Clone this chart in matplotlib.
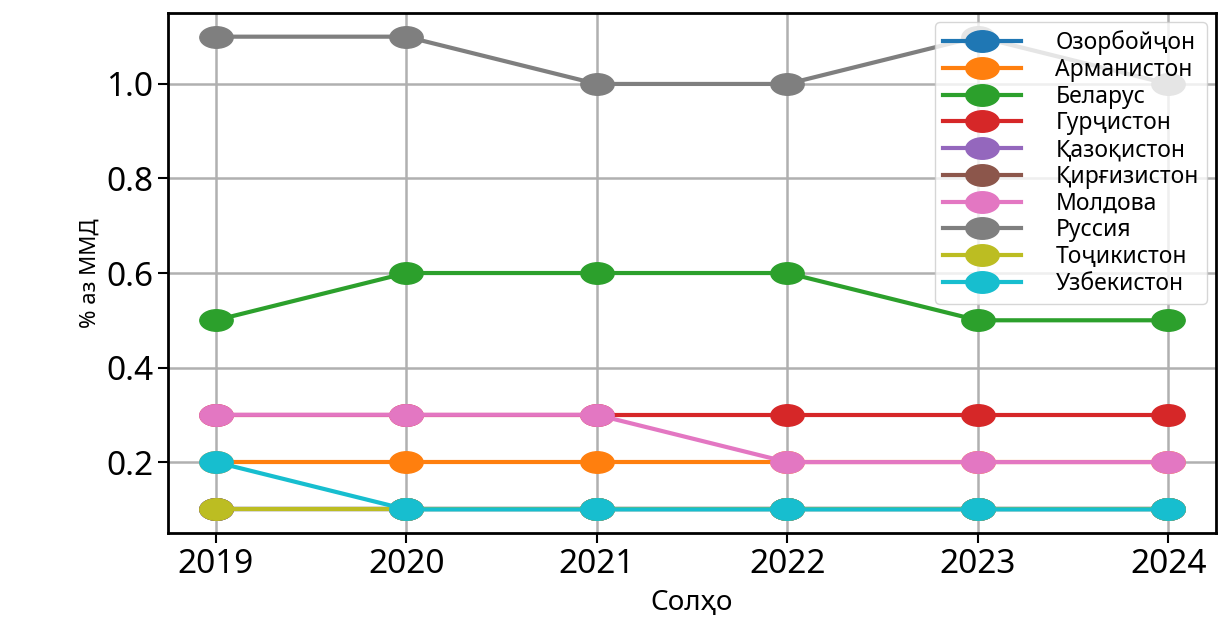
import matplotlib
matplotlib.use("Agg")
import matplotlib.pyplot as plt
from matplotlib.path import Path
from matplotlib.transforms import Affine2D

plt.rcParams['font.family'] = ['Noto Sans', 'DejaVu Sans']

YEARS = [2019, 2020, 2021, 2022, 2023, 2024]
COUNTRIES = ["Озорбойҷон", "Арманистон", "Беларус", "Гурҷистон", "Қазоқистон",
             "Қирғизистон", "Молдова", "Руссия", "Тоҷикистон", "Узбекистон"]
AZERBAIJAN = [0.1, 0.1, 0.1, 0.1, 0.1, 0.1]
ARMENIA = [0.2, 0.2, 0.2, 0.2, 0.2, 0.2]
BELARUS = [0.5, 0.6, 0.6, 0.6, 0.5, 0.5]
GEORGIA = [0.3, 0.3, 0.3, 0.3, 0.3, 0.3]
KAZAKHSTAN = [0.1, 0.1, 0.1, 0.1, 0.1, 0.1]
KYRGYZSTAN = [0.1, 0.1, 0.1, 0.1, 0.1, 0.1]
MOLDOVA = [0.3, 0.3, 0.3, 0.2, 0.2, 0.2]
RUSSIA = [1.1, 1.1, 1.0, 1.0, 1.1, 1.0]
TAJIKISTAN = [0.1, 0.1, 0.1, 0.1, 0.1, 0.1]
UZBEKISTAN = [0.2, 0.1, 0.1, 0.1, 0.1, 0.1]
SERIES = [AZERBAIJAN, ARMENIA, BELARUS, GEORGIA, KAZAKHSTAN,
          KYRGYZSTAN, MOLDOVA, RUSSIA, TAJIKISTAN, UZBEKISTAN]

# the reference looks stretched sideways, so use a wide ellipse as marker
ELLIPSE = Affine2D().scale(1.55, 1.0).transform_path(Path.unit_circle())


def main():
    fig = plt.figure(figsize=(12.23, 6.21), dpi=100)
    ax = fig.add_axes([0.1374, 0.1417, 0.8569, 0.8373])
    for name, vals in zip(COUNTRIES, SERIES):
        ax.plot(YEARS, vals, marker=ELLIPSE, markersize=24, linewidth=3,
                label=name)
    ax.grid(True, color='#b0b0b0', linewidth=1.8)
    ax.set_xticks(YEARS)
    ax.tick_params(labelsize=24, length=7, width=1.5)
    for sp in ax.spines.values():
        sp.set_linewidth(2)
    ax.set_xlabel('Солҳо', fontsize=20, labelpad=6)
    ax.set_ylabel('% аз ММД', fontsize=16)
    ax.legend(loc='upper right', fontsize=16.5, labelspacing=0.12,
              handlelength=3.4, handletextpad=1.5, borderpad=0.35,
              borderaxespad=0.4)
    fig.savefig('out.png', dpi=100)


if __name__ == "__main__":
    main()
